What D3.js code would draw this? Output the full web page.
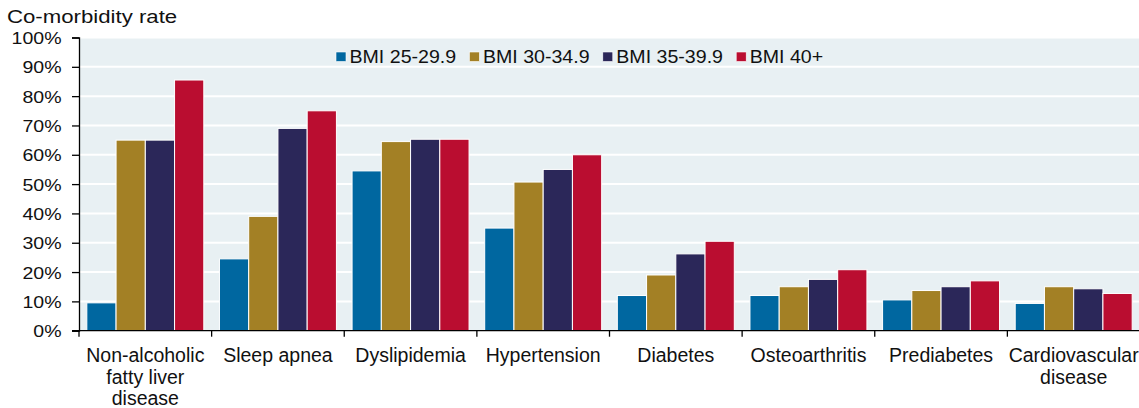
<!DOCTYPE html>
<html>
<head>
<meta charset="utf-8">
<script src="https://cdn.jsdelivr.net/npm/d3@7"></script>
<style>
  html, body { margin: 0; padding: 0; background: #fff; }
  svg { display: block; font-family: "Liberation Sans", Arial, sans-serif; }
</style>
</head>
<body>
<div id="chart"></div>
<script>
// ── Data ──
const categories = [
  "Non-alcoholic fatty liver disease",
  "Sleep apnea",
  "Dyslipidemia",
  "Hypertension",
  "Diabetes",
  "Osteoarthritis",
  "Prediabetes",
  "Cardiovascular disease",
];
const catLines = [
  ["Non-alcoholic", "fatty liver", "disease"],
  ["Sleep apnea"],
  ["Dyslipidemia"],
  ["Hypertension"],
  ["Diabetes"],
  ["Osteoarthritis"],
  ["Prediabetes"],
  ["Cardiovascular", "disease"],
];
const seriesNames = ["BMI 25-29.9", "BMI 30-34.9", "BMI 35-39.9", "BMI 40+"];
const bmi25 = [9.5, 24.5, 54.5, 35, 12, 12, 10.5, 9.3];
const bmi30 = [65, 39, 64.5, 50.7, 19, 15, 13.7, 15];
const bmi35 = [65, 69, 65.3, 55, 26.2, 17.5, 15, 14.3];
const bmi40 = [85.5, 75, 65.3, 60, 30.5, 20.8, 17, 12.7];
const yTicks = [0, 10, 20, 30, 40, 50, 60, 70, 80, 90, 100];

const C = {
  blue: "#0067a0",
  gold: "#a38025",
  navy: "#2b2759",
  red: "#ba0d30",
  bg: "#e8f0f3",
  axis: "#000",
};
const colors = [C.blue, C.gold, C.navy, C.red];
const series = [bmi25, bmi30, bmi35, bmi40];

// ── Layout ──
const W = 1139, H = 408;
const M = { t: 37.5, r: 0, b: 77.3, l: 79 };
const w = W - M.l - M.r;
const h = H - M.t - M.b;

const svg = d3.select("#chart").append("svg")
  .attr("width", W).attr("height", H);

const g = svg.append("g").attr("transform", `translate(${M.l},${M.t})`);

// ── Scales ──
const x0 = d3.scaleBand().domain(categories).range([0, w + 1])
  .paddingInner(0.118).paddingOuter(0.059);
const x1 = d3.scaleBand().domain(d3.range(seriesNames.length))
  .range([0, x0.bandwidth()]);
const y = d3.scaleLinear().domain([0, 100]).range([h, 0]);

// stretch helper (reference text is rendered horizontally wide)
function stretch(sel, sx, x) {
  sel.attr("x", x / sx).attr("transform", `scale(${sx},1)`);
}

// ── Plot background + grid ──
g.append("rect")
  .attr("x", 0).attr("y", 0).attr("width", w).attr("height", h)
  .attr("fill", C.bg);

g.append("g").selectAll("line")
  .data(yTicks.filter((d) => d > 0))
  .join("line")
  .attr("x1", 0).attr("x2", w)
  .attr("y1", (d) => y(d)).attr("y2", (d) => y(d))
  .attr("stroke", "#fff").attr("stroke-width", 2);

// ── Bars ──
const groups = g.append("g").selectAll("g")
  .data(categories)
  .join("g")
  .attr("transform", (d) => `translate(${x0(d)},0)`);

groups.selectAll("rect")
  .data((d, i) => series.map((s, k) => ({ k, v: s[i] })))
  .join("rect")
  .attr("x", (d) => x1(d.k))
  .attr("width", x1.bandwidth())
  .attr("y", (d) => y(d.v))
  .attr("height", (d) => y(0) - y(d.v))
  .attr("fill", (d) => colors[d.k])
  .attr("stroke", "#fff")
  .attr("stroke-width", 1);

// ── Y axis ──
const yAxis = g.append("g")
  .call(d3.axisLeft(y).tickValues(yTicks).tickSize(7).tickPadding(11)
    .tickFormat((d) => d + "%"));
yAxis.select(".domain").attr("stroke", C.axis).attr("stroke-width", 1.3);
yAxis.selectAll(".tick line").attr("stroke", C.axis).attr("stroke-width", 1.3);
yAxis.selectAll(".tick text")
  .attr("fill", "#111")
  .style("font-size", "17px")
  .attr("dy", "0.36em")
  .call(stretch, 1.15, -17.5);

// ── X axis ──
const xAxis = g.append("g").attr("transform", `translate(0,${h})`);
xAxis.append("line")
  .attr("x1", -7).attr("x2", w)
  .attr("stroke", C.axis).attr("stroke-width", 1.3);

const step = x0.step();
xAxis.selectAll(".xtick")
  .data(categories)
  .join("line")
  .attr("class", "xtick")
  .attr("x1", (d) => x0(d) - (step - x0.bandwidth()) / 2)
  .attr("x2", (d) => x0(d) - (step - x0.bandwidth()) / 2)
  .attr("y1", 0).attr("y2", 6)
  .attr("stroke", C.axis).attr("stroke-width", 1.3);

const xl = xAxis.selectAll(".xlab")
  .data(categories)
  .join("text")
  .attr("class", "xlab")
  .attr("text-anchor", "middle")
  .attr("fill", "#111")
  .style("font-size", "19.5px")
  .attr("transform", (d) => `translate(${x0(d) + x0.bandwidth() / 2},${31.3})`);

xl.selectAll("tspan")
  .data((d, i) => catLines[i])
  .join("tspan")
  .attr("x", 0)
  .attr("dy", (d, j) => (j === 0 ? 0 : 21.5))
  .text((d) => d);

// ── Axis title ──
svg.append("text")
  .attr("y", 23)
  .attr("fill", "#111")
  .style("font-size", "18.5px")
  .text("Co-morbidity rate")
  .call(stretch, 1.2, 7);

// ── Legend ──
const legend = svg.append("g").attr("transform", "translate(336,52)");
const li = legend.selectAll("g")
  .data(seriesNames)
  .join("g")
  .attr("transform", (d, i) => `translate(${i * 133.4},0)`);
li.append("rect")
  .attr("width", 10).attr("height", 9.5)
  .attr("fill", (d, i) => colors[i])
  .attr("stroke", "#fff").attr("stroke-width", 0.6);
li.append("text")
  .attr("y", 11)
  .attr("fill", "#111")
  .style("font-size", "17.5px")
  .text((d) => d)
  .call(stretch, 1.12, 13.5);
</script>
</body>
</html>
